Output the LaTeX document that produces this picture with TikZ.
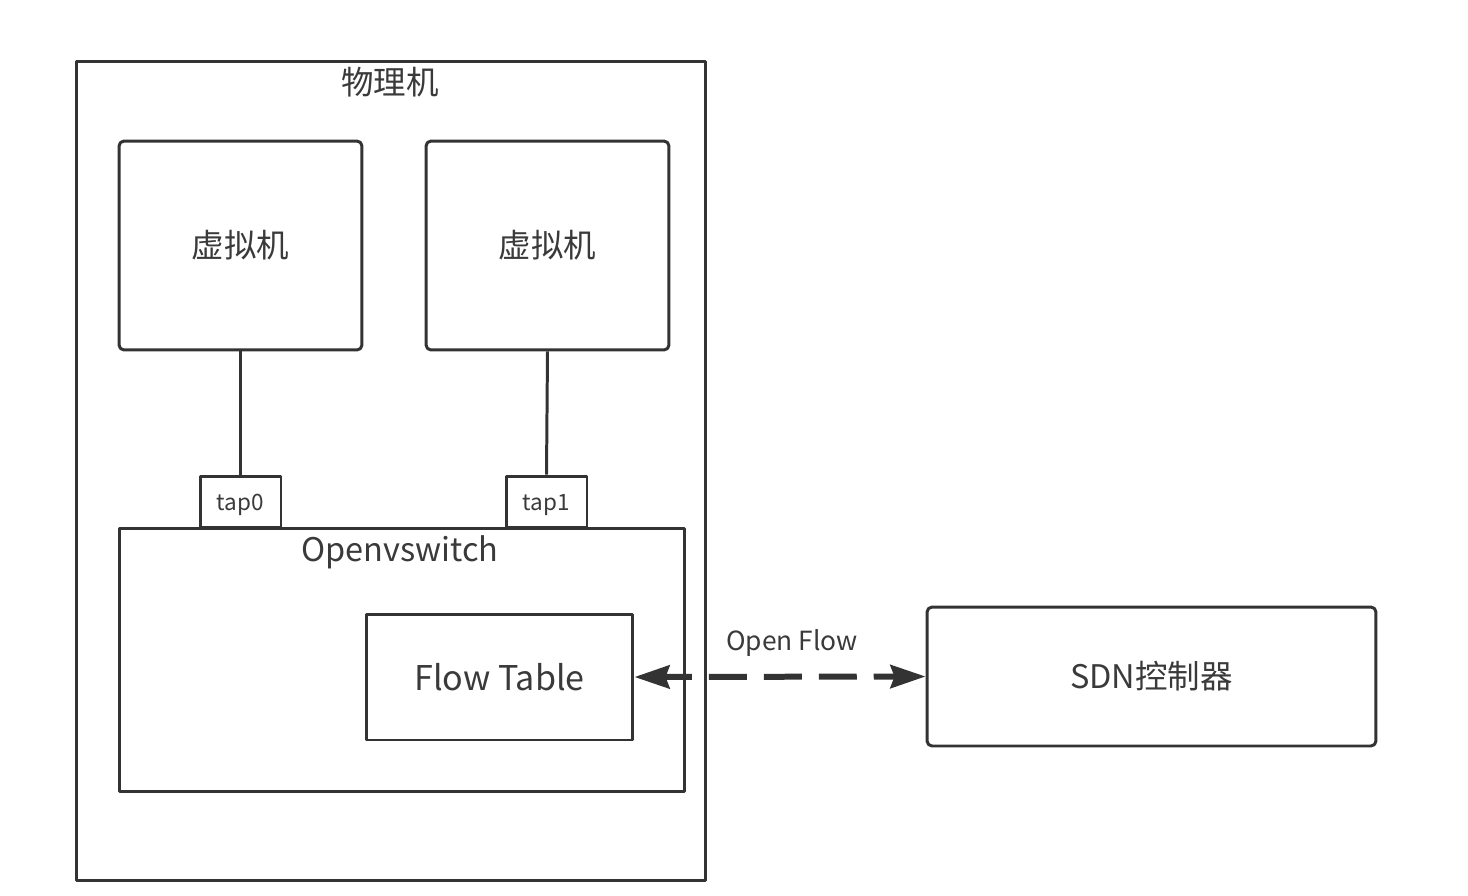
\documentclass[tikz,border=0pt]{standalone}
\usepackage{fontspec}
\setmainfont{Noto Sans CJK SC}
\usetikzlibrary{arrows.meta}
\definecolor{linegray}{HTML}{333333}
\definecolor{textgray}{HTML}{3A3A3A}
\begin{document}
\begin{tikzpicture}[x=0.02cm, y=-0.02cm, line join=round,
    box/.style={draw=linegray, line width=1.7pt, text=textgray, inner sep=0pt},
    roundbox/.style={box, rounded corners=0.1cm},
    bigfont/.style={font=\fontsize{18.5}{22}\selectfont},
    smallfont/.style={font=\fontsize{12.8}{15}\selectfont}]
	\useasboundingbox (0,0) rectangle (1468,896);
	% physical host
	\node[box, minimum width=12.6cm, minimum height=16.4cm] (host) at (391,471) {};
	\node[text=textgray, bigfont] (hostlabel) at (390,82) {物理机};
	% virtual machines
	\node[roundbox, bigfont, minimum width=4.86cm, minimum height=4.18cm] (vm0) at (240.5,245.5) {虚拟机};
	\node[roundbox, bigfont, minimum width=4.86cm, minimum height=4.18cm] (vm1) at (547.5,245.5) {虚拟机};
	% taps
	\node[box, smallfont, minimum width=1.62cm, minimum height=1.02cm, text depth=0pt] (tap0) at (240.5,501.5) {\raisebox{-0.05cm}{tap0}};
	\node[box, smallfont, minimum width=1.62cm, minimum height=1.02cm, text depth=0pt] (tap1) at (546.5,501.5) {\raisebox{-0.05cm}{tap1}};
	\draw[linegray, line width=1.7pt] (vm0.south) -- (tap0.north);
	\draw[linegray, line width=1.7pt] (vm1.south) -- (tap1.north);
	% openvswitch
	\node[box, minimum width=11.32cm, minimum height=5.28cm] (ovs) at (402,660) {};
	\node[text=textgray, bigfont] (ovslabel) at (400,552) {Openvswitch};
	\node[box, font=\fontsize{19.4}{23}\selectfont, minimum width=5.34cm, minimum height=2.52cm] (flow) at (499.5,677) {Flow Table};
	% controller
	\node[roundbox, bigfont, minimum width=8.98cm, minimum height=2.78cm] (sdn) at (1151.5,676.5) {SDN控制器};
	\draw[linegray, line width=0.12cm, dash pattern=on 0.76cm off 0.34cm, dash phase=0.2cm,
		{Stealth[length=0.7cm, width=0.46cm, inset=0.08cm]}-{Stealth[length=0.7cm, width=0.46cm, inset=0.08cm]}]
		(flow.east) -- (sdn.west);
	\node[text=textgray, font=\fontsize{15}{18}\selectfont] (oflabel) at (792,643) {Open Flow};
\end{tikzpicture}
\end{document}
